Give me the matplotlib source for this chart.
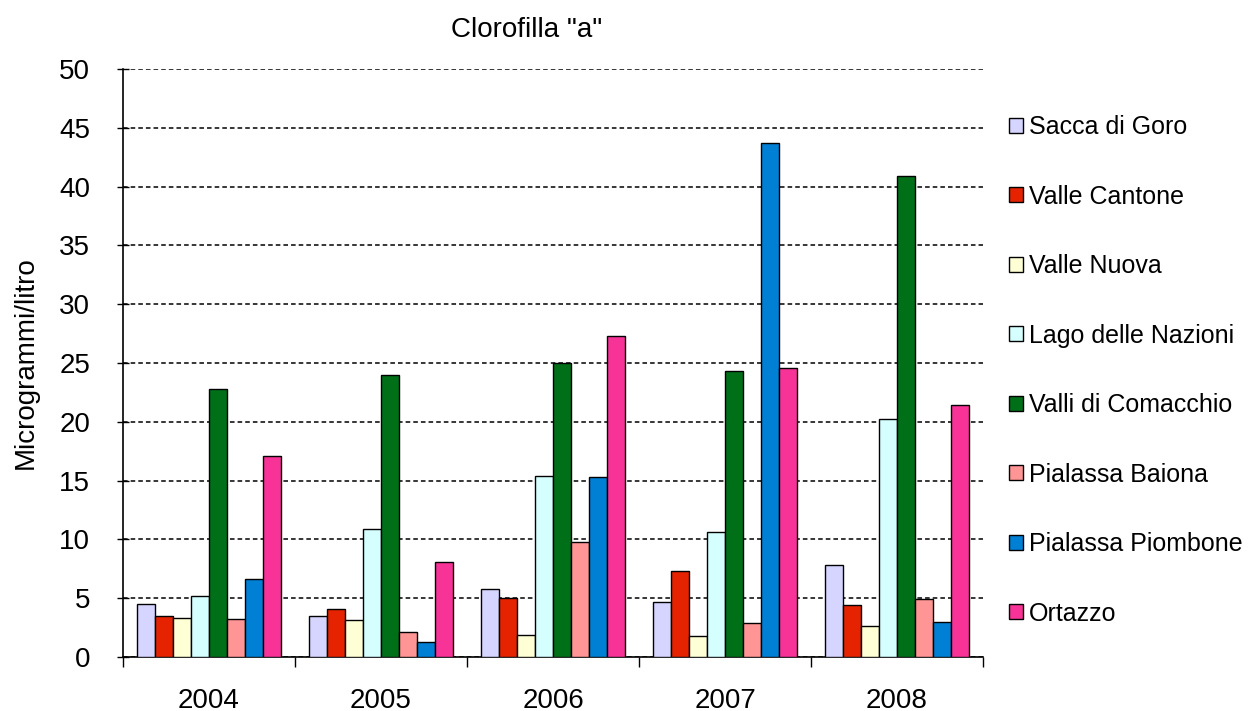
import numpy as np
import matplotlib
matplotlib.use("Agg")
import matplotlib.pyplot as plt

plt.rcParams['font.family'] = ['Liberation Sans', 'DejaVu Sans']

years = ["2004", "2005", "2006", "2007", "2008"]
sites = ["Sacca di Goro", "Valle Cantone", "Valle Nuova", "Lago delle Nazioni",
         "Valli di Comacchio", "Pialassa Baiona", "Pialassa Piombone", "Ortazzo"]
colors = ["#D5D5FF", "#E52300", "#FFFFD5", "#D5FFFF",
          "#007018", "#FF9595", "#0080D5", "#F83398"]

# chlorophyll a, µg/l, one list per site (2004..2008)
sacca_goro = [4.5, 3.5, 5.8, 4.7, 7.8]
valle_cantone = [3.5, 4.1, 5.0, 7.3, 4.4]
valle_nuova = [3.3, 3.15, 1.9, 1.8, 2.6]
lago_nazioni = [5.2, 10.9, 15.4, 10.6, 20.2]
valli_comacchio = [22.8, 24.0, 25.0, 24.3, 40.9]
pialassa_baiona = [3.2, 2.15, 9.8, 2.9, 4.9]
pialassa_piombone = [6.6, 1.3, 15.3, 43.7, 3.0]
ortazzo = [17.1, 8.1, 27.3, 24.6, 21.4]

series = [sacca_goro, valle_cantone, valle_nuova, lago_nazioni,
          valli_comacchio, pialassa_baiona, pialassa_piombone, ortazzo]

fig = plt.figure(figsize=(12.52, 7.11), dpi=100)
ax = fig.add_axes([0.0982, 0.076, 0.687, 0.827])

x = np.arange(len(years))
w = 0.105
for i, (vals, name, col) in enumerate(zip(series, sites, colors)):
    ax.bar(x + (i - 3.5) * w, vals, w, color=col, edgecolor="black",
           linewidth=1.0, label=name, zorder=3)

ax.set_xlim(-0.5, len(years) - 0.5)
ax.set_ylim(0, 50)
ax.set_yticks(np.arange(0, 51, 5))
ax.yaxis.grid(True, color="black", linestyle=(0, (3, 2)), linewidth=1.1, zorder=0)

# boundary ticks between years, labels centred under each group
ax.set_xticks(np.arange(len(years) + 1) - 0.5)
ax.set_xticklabels([])
ax.set_xticks(x, minor=True)
ax.set_xticklabels(years, minor=True)
ax.tick_params(axis="x", which="major", direction="out", length=7, width=1)
ax.tick_params(axis="x", which="minor", length=0, pad=22, labelsize=20)
ax.tick_params(axis="y", direction="inout", length=9, width=1, pad=19, labelsize=20)

for s in ["top", "right"]:
    ax.spines[s].set_visible(False)
for s in ["left", "bottom"]:
    ax.spines[s].set_linewidth(1.2)

ax.set_ylabel("Microgrammi/litro", fontsize=20, labelpad=15)
fig.text(0.421, 0.958, 'Clorofilla "a"', fontsize=20, ha="center", va="center")

ax.legend(loc="upper left", bbox_to_anchor=(0.806, 0.838),
          bbox_transform=fig.transFigure, frameon=False, fontsize=18,
          handlelength=0.56, handleheight=0.56, handletextpad=0.25,
          labelspacing=1.82, borderpad=0, borderaxespad=0)

fig.savefig("out.png", dpi=100)
